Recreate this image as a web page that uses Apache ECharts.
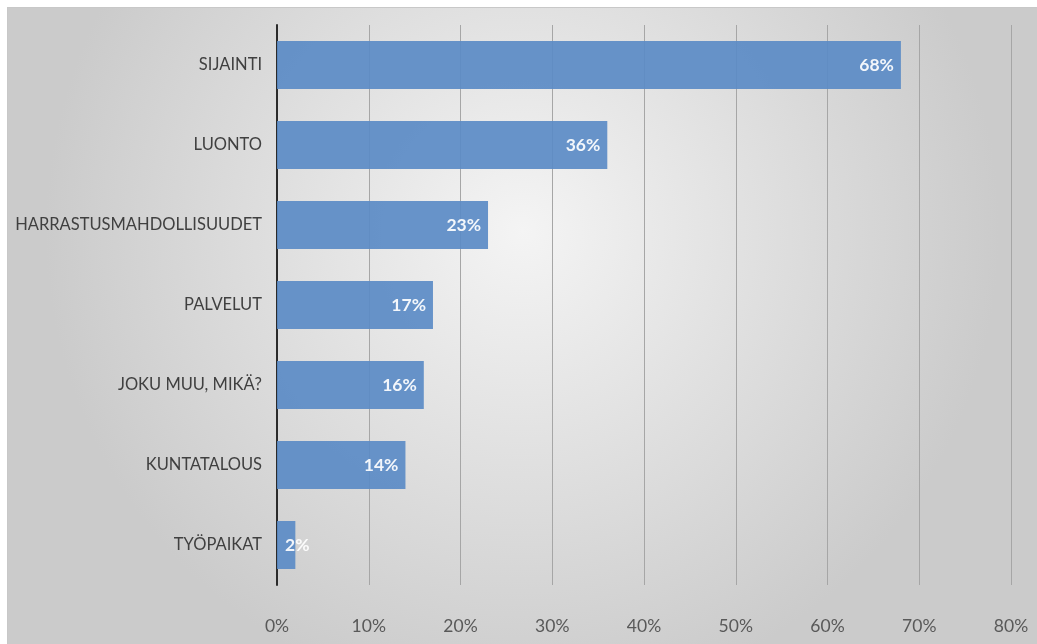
<!DOCTYPE html>
<html>
<head>
<meta charset="utf-8">
<script src="https://cdn.jsdelivr.net/npm/echarts@6/dist/echarts.min.js"></script>
<style>
  html, body { margin: 0; padding: 0; background: #fff; }
  #chart { position: absolute; left: 7px; top: 7px; width: 1030px; height: 637px;
           border-top: 1px solid #c8c8c8; border-left: 1px solid #c8c8c8; box-sizing: border-box; }
</style>
</head>
<body>
<div id="chart"></div>
<script>
const categories = ['SIJAINTI', 'LUONTO', 'HARRASTUSMAHDOLLISUUDET', 'PALVELUT', 'JOKU MUU, MIKÄ?', 'KUNTATALOUS', 'TYÖPAIKAT'];
const values = [68, 36, 23, 17, 16, 14, 2];

const chart = echarts.init(document.getElementById('chart'));

chart.setOption({
  backgroundColor: {
    type: 'radial', x: 0.5, y: 0.35, r: 0.75,
    colorStops: [
      { offset: 0, color: '#f4f4f4' },
      { offset: 1, color: '#cbcbcb' }
    ]
  },
  textStyle: { fontFamily: 'Lato' },
  grid: { left: 269, right: 26, top: 17, bottom: 59 },
  xAxis: {
    type: 'value',
    min: 0, max: 80, interval: 10,
    axisLine: { show: false },
    axisTick: { show: false },
    splitLine: { lineStyle: { color: '#a6a6a6', width: 1 } },
    axisLabel: { formatter: '{value}%', color: '#595959', fontSize: 17.5, margin: 32 }
  },
  yAxis: {
    type: 'category',
    inverse: true,
    data: categories,
    axisLine: { lineStyle: { color: '#2b2b2b', width: 2 } },
    axisTick: { show: false },
    axisLabel: { color: '#404040', fontSize: 16.5, margin: 15 }
  },
  series: [{
    type: 'bar',
    barWidth: '60%',
    data: values.map(v => ({
      value: v,
      label: v < 5 ? { position: 'insideLeft', distance: 8 } : undefined
    })),
    itemStyle: { color: '#5b8bc6', opacity: 0.92 },
    label: {
      show: true,
      position: 'insideRight',
      distance: 7,
      formatter: '{c}%',
      color: '#ffffff',
      fontWeight: 'bold',
      fontSize: 17.5
    }
  }]
});
</script>
</body>
</html>
